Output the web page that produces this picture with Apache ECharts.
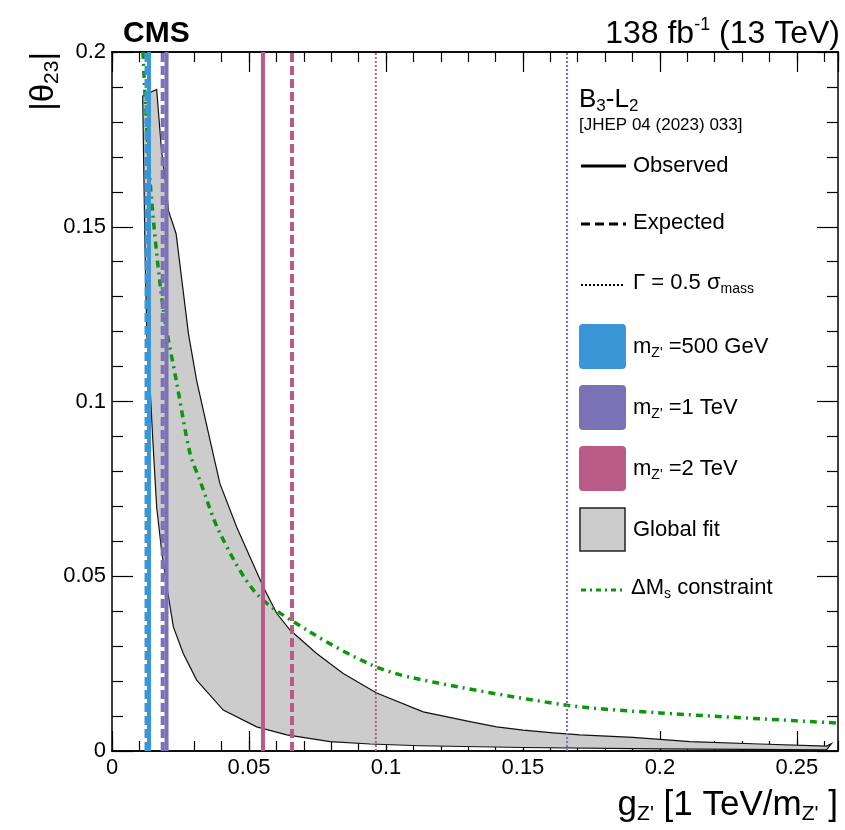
<!DOCTYPE html>
<html>
<head>
<meta charset="utf-8">
<script src="https://cdn.jsdelivr.net/npm/echarts@6/dist/echarts.min.js"></script>
<style>
  html, body { margin: 0; padding: 0; background: #fff; }
  #chart { width: 845px; height: 830px; }
</style>
</head>
<body>
<div id="chart"></div>
<script>
// axis ticks
const xTickValues = [0, 0.05, 0.1, 0.15, 0.2, 0.25]
const xTickLabels = ['0', '0.05', '0.1', '0.15', '0.2', '0.25']
const yTickValues = [0, 0.05, 0.1, 0.15, 0.2]
const yTickLabels = ['0', '0.05', '0.1', '0.15', '0.2']

// global fit band, polygon outline (g, theta): upper edge left->right, then lower edge right->left
const bandG = [0.0112, 0.0163, 0.0181, 0.0200, 0.0206, 0.0234, 0.0279, 0.0309, 0.0358, 0.0394, 0.0455, 0.0552,
  0.0601, 0.0650, 0.0747, 0.0844, 0.0966, 0.1136, 0.1307, 0.1404, 0.1501, 0.1610, 0.1708, 0.1902,
  0.2000, 0.2110, 0.2365, 0.2608, 0.2626,
  0.2608, 0.2000, 0.1500, 0.1124, 0.0942, 0.0796, 0.0638, 0.0528, 0.0406, 0.0309, 0.0260, 0.0224, 0.0200,
  0.0181, 0.0163, 0.0149, 0.0139, 0.0127, 0.0120]
const bandTheta = [0.1874, 0.1893, 0.1716, 0.1600, 0.1546, 0.1480, 0.1194, 0.1060, 0.0889, 0.0765, 0.0641, 0.0470,
  0.0394, 0.0346, 0.0279, 0.0222, 0.0166, 0.0112, 0.0084, 0.0069, 0.0060, 0.0052, 0.0046, 0.0039,
  0.0033, 0.0027, 0.0020, 0.0014, 0.0021,
  0.0003, 0.0006, 0.0010, 0.0015, 0.0020, 0.0027, 0.0046, 0.0069, 0.0117, 0.0203, 0.0279, 0.0355, 0.0470,
  0.0574, 0.0698, 0.0889, 0.1040, 0.1194, 0.1460]

// Delta M_s constraint
const dmsG = [0.0113, 0.0139, 0.0186, 0.0237, 0.0285, 0.0321, 0.0394, 0.0529, 0.0720, 0.0942, 0.1099, 0.1661, 0.2000, 0.2650]
const dmsTheta = [0.200, 0.163, 0.127, 0.105, 0.0851, 0.0774, 0.0623, 0.0449, 0.0342, 0.0248, 0.0209, 0.0131, 0.0109, 0.0080]

// g limits per mass: 500 GeV, 1 TeV, 2 TeV
const massNames = ['500 GeV', '1 TeV', '2 TeV']
const massColors = ['#3b96d8', '#7b71b6', '#ba5a86']
const observedG = [0.0135, 0.0199, 0.0551]
const expectedG = [0.0126, 0.0185, 0.0657]
const widthG = [null, 0.1661, 0.0963] // Gamma = 0.5 sigma_mass (500 GeV one is off scale)

const FONT = 'Liberation Sans'
const chart = echarts.init(document.getElementById('chart'))

function vline(g, color, type, width) {
  return {
    type: 'line',
    data: [[g, 0], [g, 0.2]],
    showSymbol: false,
    silent: true,
    lineStyle: { color: color, width: width, type: type, cap: 'butt' },
    z: 4
  }
}

const series = [{
  type: 'custom',
  coordinateSystem: 'cartesian2d',
  data: [[0, 0]],
  silent: true,
  z: 1,
  renderItem: function(params, api) {
    const pts = bandG.map((g, i) => api.coord([g, bandTheta[i]]))
    return {
      type: 'polygon',
      shape: { points: pts, smooth: 0 },
      style: { fill: '#cccccc', stroke: '#111', lineWidth: 1.2 }
    }
  }
}, {
  type: 'line',
  data: dmsG.map((g, i) => [g, dmsTheta[i]]),
  smooth: 0.3,
  showSymbol: false,
  silent: true,
  lineStyle: { color: '#0c960c', width: 3.5, type: [7, 5, 2, 5], cap: 'butt' },
  z: 3
}]
massColors.forEach((c, i) => {
  series.push(vline(observedG[i], c, 'solid', 4))
  series.push(vline(expectedG[i], c, [9, 4], 4))
  if (widthG[i] !== null) series.push(vline(widthG[i], c, [2, 2], 2))
})

function tickFmt(values, labels) {
  return function(v) {
    const i = values.findIndex(t => Math.abs(t - v) < 1e-9)
    return i >= 0 ? labels[i] : ''
  }
}

const axisLine = { show: true, onZero: false, lineStyle: { color: '#000', width: 1.5 } }
const tickStyle = { color: '#000', width: 1.2 }
function xAx(pos, major, labels) {
  return {
    type: 'value', min: 0, max: 0.265, interval: major ? 0.05 : 0.01, position: pos,
    axisLine: axisLine,
    axisTick: { show: true, inside: true, length: major ? 20 : 10, lineStyle: tickStyle },
    splitLine: { show: false },
    axisLabel: labels ? {
      show: true, fontSize: 22, fontFamily: FONT, color: '#000', margin: 6,
      showMaxLabel: false, formatter: tickFmt(xTickValues, xTickLabels)
    } : { show: false }
  }
}
function yAx(pos, labels) {
  return {
    type: 'value', min: 0, max: 0.2, interval: 0.05, position: pos,
    axisLine: axisLine,
    axisTick: { show: true, inside: true, length: 21, lineStyle: tickStyle },
    minorTick: { show: true, splitNumber: 5, length: 11, lineStyle: tickStyle },
    splitLine: { show: false },
    axisLabel: labels ? {
      show: true, fontSize: 22, fontFamily: FONT, color: '#000', margin: 6,
      formatter: tickFmt(yTickValues, yTickLabels)
    } : { show: false }
  }
}

const sub = { fontSize: 14, fontFamily: FONT, color: '#000', verticalAlign: 'bottom', lineHeight: 14 }
const main = { fontSize: 22, fontFamily: FONT, color: '#000', lineHeight: 26 }
const lx = 579
const legend = [
  { type: 'text', x: lx, y: 100, style: { text: '{m|B}{s|3}{m|-L}{s|2}', verticalAlign: 'middle',
    rich: { m: { fontSize: 26, fontFamily: FONT, color: '#000', lineHeight: 30 }, s: { fontSize: 17, fontFamily: FONT, color: '#000', verticalAlign: 'bottom', lineHeight: 16 } } } },
  { type: 'text', x: lx, y: 125, style: { text: '[JHEP 04 (2023) 033]', font: '17px "Liberation Sans"', fill: '#000', verticalAlign: 'middle' } },
  { type: 'line', shape: { x1: lx + 2, y1: 166, x2: lx + 47, y2: 166 }, style: { stroke: '#000', lineWidth: 3 } },
  { type: 'text', x: lx + 54, y: 166, style: { text: 'Observed', font: '22px "Liberation Sans"', fill: '#000', verticalAlign: 'middle' } },
  { type: 'line', shape: { x1: lx + 2, y1: 224, x2: lx + 47, y2: 224 }, style: { stroke: '#000', lineWidth: 3, lineDash: [9, 5] } },
  { type: 'text', x: lx + 54, y: 223, style: { text: 'Expected', font: '22px "Liberation Sans"', fill: '#000', verticalAlign: 'middle' } },
  { type: 'line', shape: { x1: lx + 2, y1: 285, x2: lx + 44, y2: 285 }, style: { stroke: '#000', lineWidth: 2, lineDash: [2, 2] } },
  { type: 'text', x: lx + 54, y: 283, style: { text: '{m|Γ = 0.5 σ}{s|mass}', verticalAlign: 'middle', rich: { m: main, s: sub } } }
]
const boxY = [324, 385, 446]
massColors.forEach((c, i) => {
  legend.push({ type: 'rect', shape: { x: lx, y: boxY[i], width: 47, height: 45, r: 4 }, style: { fill: c } })
  legend.push({ type: 'text', x: lx + 54, y: boxY[i] + 23, style: { text: '{m|m}{s|Z\'}{m| =' + massNames[i] + '}', verticalAlign: 'middle', rich: { m: main, s: sub } } })
})
legend.push({ type: 'rect', shape: { x: lx + 1, y: 508, width: 45, height: 43 }, style: { fill: '#cccccc', stroke: '#222', lineWidth: 1.5 } })
legend.push({ type: 'text', x: lx + 54, y: 530, style: { text: 'Global fit', font: '22px "Liberation Sans"', fill: '#000', verticalAlign: 'middle' } })
legend.push({ type: 'line', shape: { x1: lx + 2, y1: 590, x2: lx + 45, y2: 590 }, style: { stroke: '#0c960c', lineWidth: 3, lineDash: [5, 4, 2, 4] } })
legend.push({ type: 'text', x: lx + 52, y: 588, style: { text: '{m|ΔM}{s|s}{m| constraint}', verticalAlign: 'middle', rich: { m: main, s: sub } } })

const titles = [
  { type: 'text', x: 123, y: 34, style: { text: 'CMS', font: 'bold 30px "Liberation Sans"', fill: '#000', verticalAlign: 'middle' } },
  { type: 'text', x: 840, y: 34, style: { text: '{m|138 fb}{p|-1}{m| (13 TeV)}', align: 'right', verticalAlign: 'middle',
    rich: { m: { fontSize: 32, fontFamily: FONT, color: '#000', lineHeight: 36 }, p: { fontSize: 18, fontFamily: FONT, color: '#000', verticalAlign: 'top', lineHeight: 18 } } } },
  { type: 'text', x: 838, y: 805, style: { text: '{m|g}{s|Z\'}{m| [1 TeV/m}{s|Z\'}{m| ]}', align: 'right', verticalAlign: 'middle',
    rich: { m: { fontSize: 35, fontFamily: FONT, color: '#000', lineHeight: 40 }, s: { fontSize: 21, fontFamily: FONT, color: '#000', verticalAlign: 'bottom', lineHeight: 18 } } } },
  { type: 'text', x: 44, y: 52, rotation: Math.PI / 2, style: { text: '{m||θ}{s|23}{m||}', align: 'right', verticalAlign: 'middle',
    rich: { m: { fontSize: 33, fontFamily: FONT, color: '#000', lineHeight: 38 }, s: { fontSize: 21, fontFamily: FONT, color: '#000', verticalAlign: 'bottom', lineHeight: 18 } } } }
]

chart.setOption({
  animation: false,
  backgroundColor: '#fff',
  grid: { left: 112, right: 7, top: 52, bottom: 79 },
  xAxis: [xAx('bottom', true, true), xAx('bottom', false, false), xAx('top', true, false), xAx('top', false, false)],
  yAxis: [yAx('left', true), yAx('right', false)],
  series: series,
  graphic: titles.concat(legend)
})
</script>
</body>
</html>
